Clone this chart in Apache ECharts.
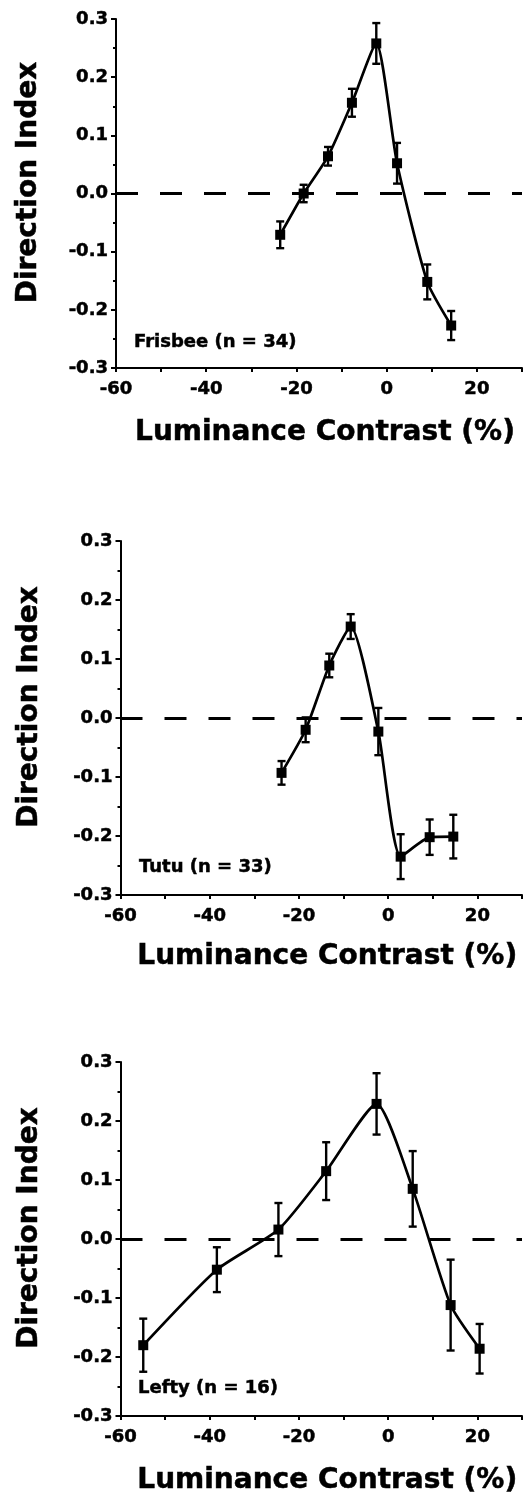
<!DOCTYPE html>
<html>
<head>
<meta charset="utf-8">
<script src="https://cdn.jsdelivr.net/npm/echarts@6/dist/echarts.min.js"></script>
<style>
html,body{margin:0;padding:0;background:#fff;}
#chart{width:525px;height:1499px;}
</style>
</head>
<body>
<div id="chart"></div>
<script>
// ---- data ----
const panelLabels = ['Frisbee (n = 34)', 'Tutu (n = 33)', 'Lefty (n = 16)'];
const xAxisTitle = 'Luminance Contrast (%)';
const yAxisTitle = 'Direction Index';
const xTickLabels = [-60, -40, -20, 0, 20];
const yTickLabels = [-0.3, -0.2, -0.1, 0.0, 0.1, 0.2, 0.3];

const contrastFrisbee = [-23.6, -18.4, -13.0, -7.7, -2.3, 2.3, 9.0, 14.3];
const indexFrisbee    = [-0.071, 0.000, 0.064, 0.156, 0.258, 0.052, -0.152, -0.227];
const errorFrisbee    = [0.023, 0.015, 0.016, 0.024, 0.035, 0.035, 0.030, 0.025];

const contrastTutu = [-23.9, -18.5, -13.2, -8.4, -2.2, 2.8, 9.3, 14.6];
const indexTutu    = [-0.093, -0.020, 0.089, 0.155, -0.023, -0.235, -0.202, -0.201];
const errorTutu    = [0.020, 0.021, 0.020, 0.021, 0.040, 0.038, 0.030, 0.037];

const contrastLefty = [-54.9, -38.4, -24.6, -13.9, -2.6, 5.5, 14.0, 20.5];
const indexLefty    = [-0.180, -0.052, 0.016, 0.115, 0.229, 0.085, -0.112, -0.186];
const errorLefty    = [0.045, 0.038, 0.045, 0.049, 0.052, 0.064, 0.077, 0.042];

// ---- layout / style ----
const FONT = '"DejaVu Sans", "Liberation Sans", sans-serif';
const panels = [
  { x: contrastFrisbee, y: indexFrisbee, e: errorFrisbee,
    grid: { left: 116, top: 19, width: 406, height: 349 }, yNameGap: 73, xNameGap: 51, label: [134, 342] },
  { x: contrastTutu, y: indexTutu, e: errorTutu,
    grid: { left: 120.5, top: 541, width: 404, height: 354 }, yNameGap: 77, xNameGap: 48, label: [139, 867] },
  { x: contrastLefty, y: indexLefty, e: errorLefty,
    grid: { left: 120.5, top: 1062, width: 405, height: 354 }, yNameGap: 77, xNameGap: 51, label: [138, 1388] }
];

const grids = [], xAxes = [], yAxes = [], series = [], graphics = [];
const axisLineStyle = { color: '#000', width: 2 };
const heavy = { textBorderColor: '#000', textBorderWidth: 0.5 };

panels.forEach((p, i) => {
  grids.push(Object.assign({ containLabel: false }, p.grid));
  xAxes.push({
    type: 'value', gridIndex: i, min: -60, max: 30, interval: 10,
    axisLine: { show: true, onZero: false, lineStyle: axisLineStyle },
    axisTick: { show: true, length: 4, lineStyle: { color: '#000', width: 2 } },
    splitLine: { show: false },
    axisLabel: Object.assign({
      formatter: v => (xTickLabels.indexOf(Math.round(v)) >= 0 ? String(Math.round(v)) : ''),
      fontFamily: FONT, fontWeight: 'bold', fontSize: 18, color: '#000', margin: 12
    }, heavy),
    name: xAxisTitle, nameLocation: 'middle', nameGap: p.xNameGap,
    nameTextStyle: Object.assign({ fontFamily: FONT, fontWeight: 'bold', fontSize: 28, color: '#000', padding: [0, 0, 0, 12] }, heavy)
  });
  yAxes.push({
    type: 'value', gridIndex: i, min: -0.3, max: 0.3, interval: 0.1,
    axisLine: { show: true, onZero: false, lineStyle: axisLineStyle },
    axisTick: { show: true, length: 5, lineStyle: { color: '#000', width: 2 } },
    minorTick: { show: true, splitNumber: 2, length: 3, lineStyle: { color: '#000', width: 2 } },
    splitLine: { show: false },
    axisLabel: Object.assign({
      formatter: v => {
        const r = Math.round(v * 10) / 10;
        return yTickLabels.indexOf(r) >= 0 ? r.toFixed(1).replace('-0.0', '0.0') : '';
      },
      fontFamily: FONT, fontWeight: 'bold', fontSize: 18, color: '#000', margin: 8
    }, heavy),
    name: yAxisTitle, nameLocation: 'middle', nameRotate: 90, nameGap: p.yNameGap,
    nameTextStyle: Object.assign({ fontFamily: FONT, fontWeight: 'bold', fontSize: 28, color: '#000', padding: [0, 0, 0, 22] }, heavy)
  });

  series.push({
    type: 'line', xAxisIndex: i, yAxisIndex: i,
    data: p.x.map((v, j) => [v, p.y[j]]),
    smooth: 0.2,
    symbol: 'rect', symbolSize: 10,
    itemStyle: { color: '#000' },
    lineStyle: { color: '#000', width: 2.7 },
    z: 4,
    markLine: {
      silent: true, symbol: 'none', label: { show: false },
      lineStyle: { color: '#000', width: 3, type: [22, 22] },
      data: [{ yAxis: 0 }]
    }
  });
  series.push({
    type: 'custom', xAxisIndex: i, yAxisIndex: i,
    data: p.x.map((v, j) => [v, p.y[j] - p.e[j], p.y[j] + p.e[j]]),
    encode: { x: 0, y: [1, 2] },
    z: 3,
    renderItem: (params, api) => {
      const x = api.value(0);
      const top = api.coord([x, api.value(2)]);
      const bot = api.coord([x, api.value(1)]);
      const w = 4;
      const st = { stroke: '#000', lineWidth: 2.4 };
      return {
        type: 'group',
        children: [
          { type: 'line', shape: { x1: top[0], y1: top[1], x2: bot[0], y2: bot[1] }, style: st },
          { type: 'line', shape: { x1: top[0] - w, y1: top[1], x2: top[0] + w, y2: top[1] }, style: st },
          { type: 'line', shape: { x1: bot[0] - w, y1: bot[1], x2: bot[0] + w, y2: bot[1] }, style: st }
        ]
      };
    }
  });

  graphics.push({
    type: 'text', x: p.label[0], y: p.label[1],
    style: { text: panelLabels[i], fill: '#000', font: 'bold 18px ' + FONT, verticalAlign: 'middle', align: 'left',
             stroke: '#000', lineWidth: 0.5 }
  });
});

const chart = echarts.init(document.getElementById('chart'), null, { renderer: 'canvas' });
chart.setOption({
  animation: false,
  backgroundColor: '#fff',
  grid: grids, xAxis: xAxes, yAxis: yAxes, series: series, graphic: graphics
});
</script>
</body>
</html>
